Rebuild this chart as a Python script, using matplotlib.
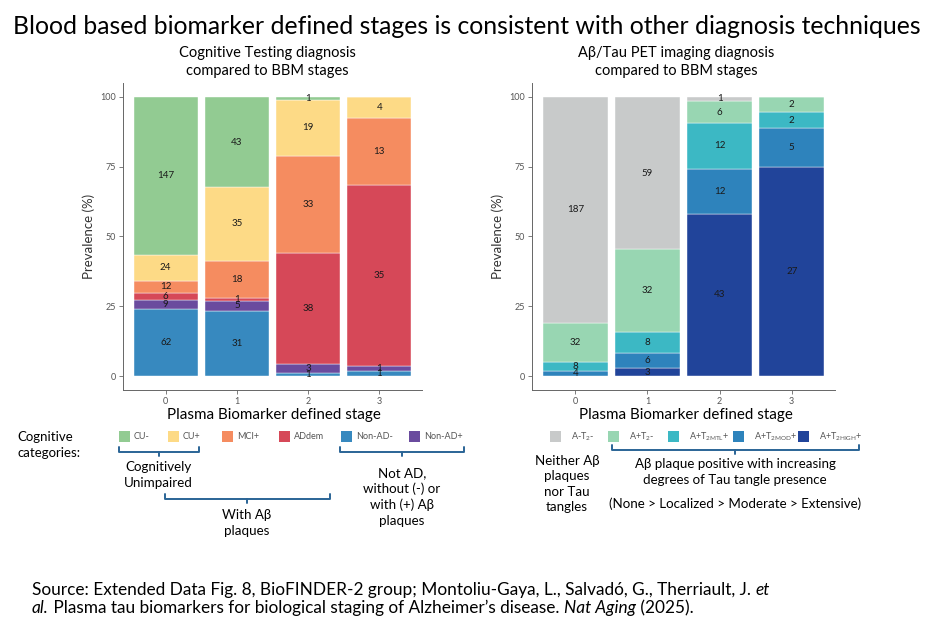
import matplotlib
matplotlib.use('Agg')
import matplotlib.pyplot as plt
import numpy as np
from matplotlib.patches import Rectangle

plt.rcParams['font.family'] = ['Lato', 'DejaVu Sans']

# ---------------- data ----------------
stages = ['0', '1', '2', '3']

# Cognitive categories (stack order bottom -> top)
cog_categories = ['Non-AD-', 'Non-AD+', 'ADdem', 'MCI+', 'CU+', 'CU-']
nonad_neg = [62, 31, 1, 1]
nonad_pos = [9, 5, 3, 1]
addem = [6, 1, 38, 35]
mci_pos = [12, 18, 33, 13]
cu_pos = [24, 35, 19, 4]
cu_neg = [147, 43, 1, 0]
cog_colors = ['#3789BF', '#6A4B9E', '#D64858', '#F58C60', '#FDDA86', '#92CB92']

# PET categories (stack order bottom -> top)
pet_categories = ['A+T2HIGH+', 'A+T2MOD+', 'A+T2MTL+', 'A+T2-', 'A-T2-']
pet_high = [0, 3, 43, 27]
pet_mod = [4, 6, 12, 5]
pet_mtl = [8, 8, 12, 2]
pet_t2neg = [32, 32, 6, 2]
pet_neg = [187, 59, 1, 0]
pet_colors = ['#21449A', '#2E83BC', '#3CB8C4', '#98D6B2', '#C8CACA']

# legend entries (left->right)
cog_legend_labels = ['CU-', 'CU+', 'MCI+', 'ADdem', 'Non-AD-', 'Non-AD+']
cog_legend_colors = ['#92CB92', '#FDDA86', '#F58C60', '#D64858', '#3789BF', '#6A4B9E']
pet_legend_labels = [r'A-T$_{\mathregular{2}}$-', r'A+T$_{\mathregular{2}}$-',
                     r'A+T$_{\mathregular{2MTL}}$+', r'A+T$_{\mathregular{2MOD}}$+',
                     r'A+T$_{\mathregular{2HIGH}}$+']
pet_legend_colors = ['#C8CACA', '#98D6B2', '#3CB8C4', '#2E83BC', '#21449A']

# ---------------- figure ----------------
fig = plt.figure(figsize=(9.36, 6.32), dpi=100)
fig.patch.set_facecolor('white')

W, H = 936, 632


def px_axes(x0, x1, y0, y1):
    return fig.add_axes([x0 / W, 1 - y1 / H, (x1 - x0) / W, (y1 - y0) / H])


def stacked(ax, counts, colors):
    counts = np.array(counts, float)
    totals = counts.sum(0)
    pct = counts / totals * 100
    x = np.arange(len(stages))
    bottom = np.zeros(len(stages))
    for i in range(counts.shape[0]):
        ax.bar(x, pct[i], bottom=bottom, width=0.9, color=colors[i],
               edgecolor='white', linewidth=0.3)
        for j in range(len(x)):
            if counts[i, j] > 0:
                ax.text(x[j], bottom[j] + pct[i, j] / 2, str(int(counts[i, j])),
                        ha='center', va='center', fontsize=7, color='#1a1a1a')
        bottom += pct[i]
    ax.set_xlim(-0.6, 3.6)
    ax.set_ylim(-5, 105)
    ax.set_xticks(x)
    ax.set_xticklabels(stages)
    ax.set_yticks([0, 25, 50, 75, 100])
    for s in ['top', 'right']:
        ax.spines[s].set_visible(False)
    for s in ['left', 'bottom']:
        ax.spines[s].set_color('#666666')
        ax.spines[s].set_linewidth(0.7)
    ax.tick_params(colors='#666666', labelsize=6.5, length=3, width=0.6,
                   labelcolor='#555555', pad=2)
    ax.set_ylabel('Prevalence (%)', fontsize=9.5, color='#333333', labelpad=4)


ax1 = px_axes(123, 422, 83, 390)
stacked(ax1, [nonad_neg, nonad_pos, addem, mci_pos, cu_pos, cu_neg], cog_colors)
ax2 = px_axes(532, 835, 83, 390)
stacked(ax2, [pet_high, pet_mod, pet_mtl, pet_t2neg, pet_neg], pet_colors)

# overlay for annotations, in pixel coordinates
ov = fig.add_axes([0, 0, 1, 1], facecolor='none')
ov.set_xlim(0, W)
ov.set_ylim(H, 0)
ov.axis('off')

ov.text(467, 27, 'Blood based biomarker defined stages is consistent with other diagnosis techniques',
        ha='center', va='center', fontsize=17.8, color='black')
ov.text(267, 62, 'Cognitive Testing diagnosis\ncompared to BBM stages', ha='center', va='center',
        fontsize=10.5, color='black', linespacing=1.3)
ov.text(676, 62, 'Aβ/Tau PET imaging diagnosis\ncompared to BBM stages', ha='center', va='center',
        fontsize=10.5, color='black', linespacing=1.3)
ov.text(274, 415, 'Plasma Biomarker defined stage', ha='center', va='center', fontsize=10.9)
ov.text(686, 415, 'Plasma Biomarker defined stage', ha='center', va='center', fontsize=10.9)

# legends
cog_leg_x = [119, 168, 222, 279, 341, 409]
for xx, lab, col in zip(cog_leg_x, cog_legend_labels, cog_legend_colors):
    ov.add_patch(Rectangle((xx, 431), 11, 11, facecolor=col, edgecolor='none'))
    ov.text(xx + 15, 436.5, lab, ha='left', va='center', fontsize=6.5, color='#555555')
pet_leg_x = [550, 608, 668, 733, 798]
for xx, lab, col in zip(pet_leg_x, pet_legend_labels, pet_legend_colors):
    ov.add_patch(Rectangle((xx, 431), 11, 11, facecolor=col, edgecolor='none'))
    ov.text(xx + 21, 436.5, lab, ha='left', va='center', fontsize=6.5, color='#555555')

ov.text(17, 445, 'Cognitive\ncategories:', ha='left', va='center', fontsize=9.5, linespacing=1.35)

bcol = '#2A6496'


def bracket(x0, x1, y, xc=None):
    if xc is None:
        xc = (x0 + x1) / 2
    ov.plot([x0, x0, x1, x1], [y - 5, y, y, y - 5], color=bcol, lw=1.4,
            solid_joinstyle='round', solid_capstyle='round')
    ov.plot([xc, xc], [y, y + 4], color=bcol, lw=1.4, solid_capstyle='round')


bracket(119, 199, 452, 159)
bracket(165, 330, 499, 247)
bracket(340, 464, 452, 402)
bracket(612, 859, 450, 735)

fs_ann = 9.6
ov.text(158, 475, 'Cognitively\nUnimpaired', ha='center', va='center', fontsize=fs_ann, linespacing=1.35)
ov.text(247, 523, 'With Aβ\nplaques', ha='center', va='center', fontsize=fs_ann, linespacing=1.45)
ov.text(402, 497, 'Not AD,\nwithout (-) or\nwith (+) Aβ\nplaques', ha='center', va='center',
        fontsize=fs_ann, linespacing=1.35)
ov.text(567, 484, 'Neither Aβ\nplaques\nnor Tau\ntangles', ha='center', va='center',
        fontsize=fs_ann, linespacing=1.35)
ov.text(735, 472, 'Aβ plaque positive with increasing\ndegrees of Tau tangle presence',
        ha='center', va='center', fontsize=fs_ann, linespacing=1.35)
ov.text(735, 504, '(None > Localized > Moderate > Extensive)', ha='center', va='center', fontsize=fs_ann)

# source text with italics pieces
src_font = ['Lato', 'DejaVu Sans']
fs_src = 12.4


def chain(pieces, x, y):
    t = ov.text(x, y, pieces[0][0], ha='left', va='bottom', fontsize=fs_src,
                family=src_font, style=pieces[0][1])
    for txt, sty in pieces[1:]:
        t = ov.annotate(txt, xy=(1, 0), xycoords=t, xytext=(0, 0), textcoords='offset points',
                        ha='left', va='bottom', fontsize=fs_src, family=src_font, style=sty)


chain([('Source: Extended Data Fig. 8, BioFINDER-2 group; Montoliu-Gaya, L., Salvadó, G., Therriault, J. ', 'normal'),
       ('et', 'italic')], 32, 598)
chain([('al.', 'italic'),
       (' Plasma tau biomarkers for biological staging of Alzheimer’s disease. ', 'normal'),
       ('Nat Aging', 'italic'), (' (2025).', 'normal')], 32, 616)

fig.savefig('out.png', dpi=100, facecolor='white')
